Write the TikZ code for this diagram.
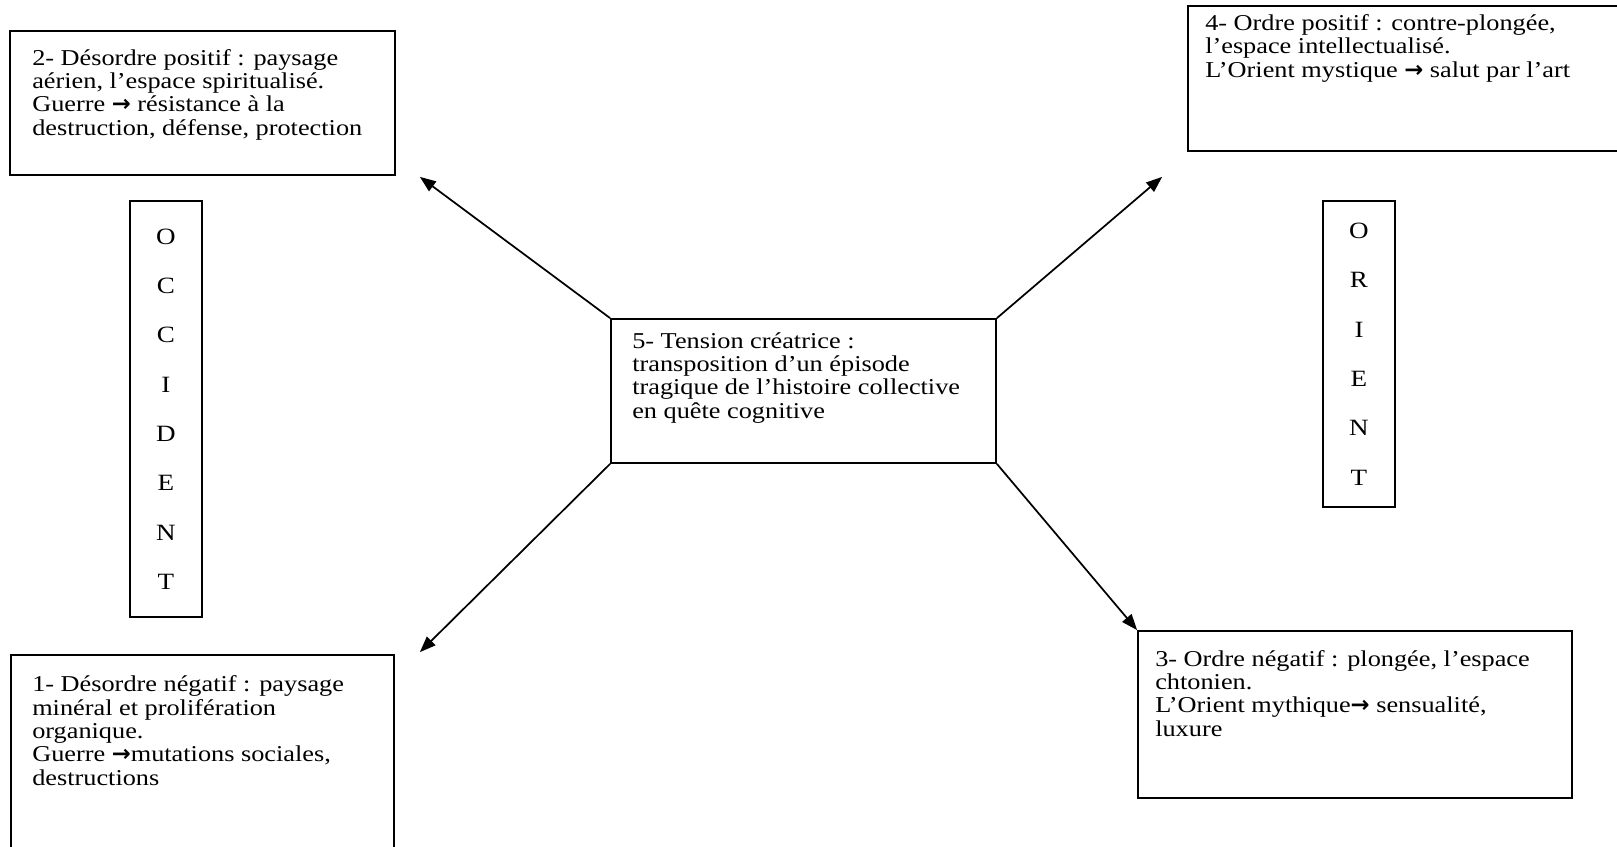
\documentclass[tikz,border=0pt]{standalone}
\usepackage{fontspec}
\setmainfont{Liberation Serif}[FakeStretch=1.16]
\newfontfamily\arrowfont{DejaVu Sans}
\usetikzlibrary{arrows.meta,calc,positioning,fit}

\newcommand{\tharrow}{{\arrowfont\bfseries\fontsize{17}{17}\selectfont →}}

\tikzset{
  frame/.style={draw,line width=1.3pt,inner sep=0pt},
  boxtext/.style={anchor=base west,align=left,inner sep=0pt,font=\fontsize{17}{17.5}\selectfont},
  letters/.style={align=center,inner sep=0pt,font=\fontsize{17.5}{37}\selectfont},
  link/.style={line width=1.3pt,-{Triangle[length=12pt,width=9pt]}}
}

\begin{document}
\begin{tikzpicture}[x=0.75pt,y=-0.75pt]
\useasboundingbox (0,0) rectangle (1617,846);
% frames
\path (10,31) coordinate (b2a) (395,175) coordinate (b2b)
      (1188,6) coordinate (b4a) (1640,151) coordinate (b4b)
      (611,319) coordinate (ca) (996,463) coordinate (cb)
      (11,655) coordinate (b1a) (394,870) coordinate (b1b)
      (1138,631) coordinate (b3a) (1572,798) coordinate (b3b)
      (130,201) coordinate (occa) (202,617) coordinate (occb)
      (1323,201) coordinate (oria) (1395,507) coordinate (orib);
\node[frame,fit=(b2a)(b2b)] (b2) {};
\node[frame,fit=(b4a)(b4b)] (b4) {};
\node[frame,fit=(ca)(cb)] (c) {};
\node[frame,fit=(b1a)(b1b)] (b1) {};
\node[frame,fit=(b3a)(b3b)] (b3) {};
\node[frame,fit=(occa)(occb)] (occ) {};
\node[frame,fit=(oria)(orib)] (ori) {};
% texts (anchored on their last line)
\node[boxtext] (t2) at (32,135) {2- Désordre positif : paysage\\aérien, l’espace spiritualisé.\\Guerre \tharrow{} résistance à la\\destruction, défense, protection};
\node[boxtext] (t4) at (1205,77) {4- Ordre positif : contre-plongée,\\l’espace intellectualisé.\\L’Orient mystique \tharrow{} salut par l’art};
\node[boxtext] (tc) at (632,418) {5- Tension créatrice :\\transposition d’un épisode\\tragique de l’histoire collective\\en quête cognitive};
\node[boxtext] (t1) at (32,785) {1- Désordre négatif : paysage\\minéral et prolifération\\organique.\\Guerre \tharrow{}mutations sociales,\\destructions};
\node[boxtext] (t3) at (1155,736) {3- Ordre négatif : plongée, l’espace\\chtonien.\\L’Orient mythique\tharrow{} sensualité,\\luxure};
\node[letters] (occtxt) at (occ.center) {O\\C\\C\\I\\D\\E\\N\\T};
\node[letters] (oritxt) at (ori.center) {O\\R\\I\\E\\N\\T};
% arrows
\coordinate (p2) at ($(b2.south east)+(24,1)$);
\coordinate (p4) at ($(b4.south west)+(-25,25)$);
\coordinate (p1) at ($(b1.north east)+(25,-2)$);
\draw[link] (c.north west) -- (p2);
\draw[link] (c.north east) -- (p4);
\draw[link] (c.south west) -- (p1);
\draw[link] (c.south east) -- (b3.north west);
\end{tikzpicture}
\end{document}
